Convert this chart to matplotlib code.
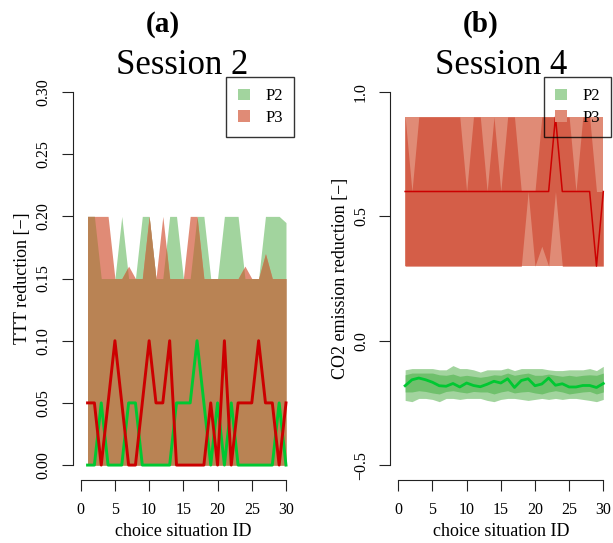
import numpy as np
import matplotlib
matplotlib.use("Agg")
import matplotlib.pyplot as plt
from matplotlib.patches import Patch

plt.rcParams['font.family'] = ['Liberation Serif', 'DejaVu Serif']

situation = np.arange(1, 31)

# ---- Panel (a): Session 2, TTT reduction ----
s2_p2_upper = [0.20, 0.20, 0.15, 0.15, 0.15, 0.20, 0.15, 0.15, 0.20, 0.20,
               0.15, 0.15, 0.20, 0.20, 0.15, 0.15, 0.20, 0.20, 0.15, 0.15,
               0.20, 0.20, 0.20, 0.15, 0.15, 0.15, 0.20, 0.20, 0.20, 0.195]
s2_p2_lower = [0.0, 0.0, 0.0, 0.0, 0.0, 0.0, 0.0, 0.0, 0.0, 0.0,
               0.0, 0.0, 0.0, 0.0, 0.0, 0.0, 0.0, 0.0, 0.0, 0.0,
               0.0, 0.0, 0.0, 0.0, 0.0, 0.0, 0.0, 0.0, 0.0, 0.0]
s2_p3_upper = [0.20, 0.20, 0.20, 0.20, 0.15, 0.15, 0.16, 0.15, 0.15, 0.20,
               0.15, 0.20, 0.15, 0.15, 0.15, 0.20, 0.20, 0.15, 0.15, 0.15,
               0.15, 0.15, 0.15, 0.16, 0.15, 0.15, 0.17, 0.15, 0.15, 0.15]
s2_p3_lower = [0.0, 0.0, 0.0, 0.0, 0.0, 0.0, 0.0, 0.0, 0.0, 0.0,
               0.0, 0.0, 0.0, 0.0, 0.0, 0.0, 0.0, 0.0, 0.0, 0.0,
               0.0, 0.0, 0.0, 0.0, 0.0, 0.0, 0.0, 0.0, 0.0, 0.0]
s2_p2_median = [0.0, 0.0, 0.05, 0.0, 0.0, 0.0, 0.05, 0.05, 0.0, 0.0,
                0.0, 0.0, 0.0, 0.05, 0.05, 0.05, 0.10, 0.05, 0.0, 0.05,
                0.0, 0.05, 0.0, 0.0, 0.0, 0.0, 0.0, 0.0, 0.05, 0.0]
s2_p3_median = [0.05, 0.05, 0.0, 0.05, 0.10, 0.05, 0.0, 0.0, 0.05, 0.10,
                0.05, 0.05, 0.10, 0.0, 0.0, 0.0, 0.0, 0.0, 0.05, 0.0,
                0.10, 0.0, 0.05, 0.05, 0.05, 0.10, 0.05, 0.05, 0.0, 0.05]

# ---- Panel (b): Session 4, CO2 emission reduction ----
s4_p2_outer_upper = [-0.117, -0.112, -0.112, -0.112, -0.112, -0.117, -0.117, -0.100, -0.112, -0.112,
                     -0.117, -0.126, -0.117, -0.117, -0.117, -0.110, -0.120, -0.112, -0.112, -0.112,
                     -0.112, -0.117, -0.120, -0.120, -0.117, -0.117, -0.117, -0.112, -0.120, -0.103]
s4_p2_outer_lower = [-0.240, -0.245, -0.232, -0.232, -0.236, -0.245, -0.232, -0.232, -0.236, -0.232,
                     -0.232, -0.232, -0.240, -0.245, -0.236, -0.232, -0.232, -0.236, -0.240, -0.236,
                     -0.232, -0.236, -0.232, -0.236, -0.232, -0.232, -0.236, -0.240, -0.245, -0.236]
s4_p2_inner_upper = [-0.137, -0.130, -0.130, -0.130, -0.130, -0.137, -0.139, -0.134, -0.143, -0.139,
                     -0.143, -0.147, -0.143, -0.137, -0.139, -0.130, -0.139, -0.134, -0.130, -0.139,
                     -0.139, -0.134, -0.139, -0.143, -0.139, -0.143, -0.139, -0.137, -0.139, -0.130]
s4_p2_inner_lower = [-0.206, -0.206, -0.201, -0.204, -0.210, -0.214, -0.204, -0.201, -0.206, -0.210,
                     -0.204, -0.206, -0.206, -0.214, -0.206, -0.201, -0.210, -0.206, -0.204, -0.210,
                     -0.214, -0.206, -0.201, -0.206, -0.214, -0.210, -0.206, -0.204, -0.214, -0.206]
s4_p2_median = [-0.181, -0.157, -0.150, -0.157, -0.167, -0.181, -0.183, -0.172, -0.186, -0.170,
                -0.180, -0.185, -0.175, -0.163, -0.170, -0.153, -0.188, -0.160, -0.153, -0.181,
                -0.174, -0.150, -0.179, -0.173, -0.186, -0.186, -0.180, -0.180, -0.188, -0.172]
s4_p3_outer_upper = [0.9, 0.9, 0.9, 0.9, 0.9, 0.9, 0.9, 0.9, 0.9, 0.9,
                     0.9, 0.9, 0.9, 0.9, 0.9, 0.9, 0.9, 0.9, 0.9, 0.9,
                     0.9, 0.9, 0.9, 0.9, 0.9, 0.9, 0.9, 0.9, 0.9, 0.9]
s4_p3_outer_lower = [0.3, 0.3, 0.3, 0.3, 0.3, 0.3, 0.3, 0.3, 0.3, 0.3,
                     0.3, 0.3, 0.3, 0.3, 0.3, 0.3, 0.3, 0.3, 0.3, 0.3,
                     0.3, 0.3, 0.3, 0.3, 0.3, 0.3, 0.3, 0.3, 0.3, 0.3]
s4_p3_inner_upper = [0.9, 0.6, 0.9, 0.9, 0.9, 0.9, 0.9, 0.9, 0.9, 0.6,
                     0.9, 0.9, 0.6, 0.9, 0.6, 0.9, 0.9, 0.6, 0.6, 0.6,
                     0.9, 0.9, 0.9, 0.9, 0.9, 0.6, 0.9, 0.9, 0.6, 0.6]
s4_p3_inner_lower = [0.3, 0.3, 0.3, 0.3, 0.3, 0.3, 0.3, 0.3, 0.3, 0.3,
                     0.3, 0.3, 0.3, 0.3, 0.3, 0.3, 0.3, 0.3, 0.6, 0.3,
                     0.38, 0.3, 0.6, 0.3, 0.3, 0.3, 0.3, 0.3, 0.3, 0.3]
s4_p3_median = [0.6, 0.6, 0.6, 0.6, 0.6, 0.6, 0.6, 0.6, 0.6, 0.6,
                0.6, 0.6, 0.6, 0.6, 0.6, 0.6, 0.6, 0.6, 0.6, 0.6,
                0.6, 0.6, 0.9, 0.6, 0.6, 0.6, 0.6, 0.6, 0.3, 0.6]

series_labels = ['P2', 'P3']
x_ticks = [0, 5, 10, 15, 20, 25, 30]
a_yticks = [0.00, 0.05, 0.10, 0.15, 0.20, 0.25, 0.30]
a_yticklabels = ['0.00', '0.05', '0.10', '0.15', '0.20', '0.25', '0.30']
b_yticks = [-0.5, 0.0, 0.5, 1.0]
b_yticklabels = ['\u22120.5', '0.0', '0.5', '1.0']

# colours
LIGHT_GREEN = '#A2D49E'
MID_GREEN = '#6FC06C'
SALMON = '#E08B76'
DARK_RED = '#D45E48'
BROWN = '#B98354'
LINE_GREEN = '#00C832'
LINE_RED = '#CC0000'

W, H = 613, 543
fig = plt.figure(figsize=(W / 100, H / 100), dpi=100)


def px_axes(l, r, t, b):
    return fig.add_axes([l / W, 1 - b / H, (r - l) / W, (b - t) / H])


ax_a = px_axes(72.5, 294.2, 77.1, 480.0)
ax_b = px_axes(390.1, 611.5, 77.1, 480.0)


def style_axes(ax, yticks, yticklabels, ylim, ylabel):
    for s in ['top', 'right']:
        ax.spines[s].set_visible(False)
    ax.spines['left'].set_bounds(yticks[0], yticks[-1])
    ax.spines['bottom'].set_bounds(x_ticks[0], x_ticks[-1])
    for s in ['left', 'bottom']:
        ax.spines[s].set_linewidth(0.8)
        ax.spines[s].set_color('#222222')
    ax.set_xlim(-1.2, 31.2)
    ax.set_ylim(*ylim)
    ax.set_xticks(x_ticks)
    ax.set_xticklabels([str(t) for t in x_ticks])
    ax.set_yticks(yticks)
    ax.set_yticklabels(yticklabels, rotation=90, va='center')
    ax.tick_params(axis='both', direction='out', length=7.7, width=0.8,
                   color='#222222', labelsize=11.5)
    ax.tick_params(axis='y', pad=7.5)
    ax.tick_params(axis='x', pad=8.2)
    ax.set_xlabel('choice situation ID', fontsize=13)
    ax.xaxis.set_label_coords(0.5, -0.128)
    ax.xaxis.label.set_verticalalignment('center')
    ax.set_ylabel(ylabel, fontsize=13)
    ax.yaxis.label.set_verticalalignment('center')


# ---- draw panel (a) ----
ax_a.fill_between(situation, s2_p2_lower, s2_p2_upper, color=LIGHT_GREEN, lw=0)
ax_a.fill_between(situation, s2_p3_lower, s2_p3_upper, color=SALMON, lw=0)
xf = np.linspace(situation[0], situation[-1], 2901)
ov_top = np.minimum(np.interp(xf, situation, s2_p2_upper), np.interp(xf, situation, s2_p3_upper))
ov_bot = np.maximum(np.interp(xf, situation, s2_p2_lower), np.interp(xf, situation, s2_p3_lower))
ax_a.fill_between(xf, ov_bot, ov_top, where=ov_top > ov_bot, color=BROWN, lw=0)
ax_a.plot(situation, s2_p2_median, color=LINE_GREEN, lw=2.1)
ax_a.plot(situation, s2_p3_median, color=LINE_RED, lw=2.1)
style_axes(ax_a, a_yticks, a_yticklabels, (-0.012, 0.312), 'TTT reduction [\u2212]')
ax_a.yaxis.set_label_coords((23 - 72.5) / 221.7, 0.5)

# ---- draw panel (b) ----
ax_b.fill_between(situation, s4_p2_outer_lower, s4_p2_outer_upper, color=LIGHT_GREEN, lw=0)
ax_b.fill_between(situation, s4_p2_inner_lower, s4_p2_inner_upper, color=MID_GREEN, lw=0)
ax_b.fill_between(situation, s4_p3_outer_lower, s4_p3_outer_upper, color=SALMON, lw=0)
ax_b.fill_between(situation, s4_p3_inner_lower, s4_p3_inner_upper, color=DARK_RED, lw=0)
ax_b.plot(situation, s4_p2_median, color=LINE_GREEN, lw=2.0)
ax_b.plot(situation, s4_p3_median, color=LINE_RED, lw=1.1)
style_axes(ax_b, b_yticks, b_yticklabels, (-0.56, 1.06), 'CO2 emission reduction [\u2212]')
ax_b.yaxis.set_label_coords((340 - 390.1) / 221.4, 0.5)

# legends
for ax in (ax_a, ax_b):
    handles = [Patch(facecolor=LIGHT_GREEN, edgecolor='none'),
               Patch(facecolor=SALMON, edgecolor='none')]
    leg = ax.legend(handles, series_labels, loc='upper right', bbox_to_anchor=(1, 1),
                    borderaxespad=0, frameon=True, fancybox=False, fontsize=12,
                    handlelength=0.76, handleheight=0.7, handletextpad=0.92,
                    labelspacing=0.35, borderpad=0.67)
    fr = leg.get_frame()
    fr.set_facecolor('none')
    fr.set_edgecolor('black')
    fr.set_linewidth(1.0)

# titles
fig.text(163 / W, 1 - 31.5 / H, '(a)', ha='center', va='baseline', fontsize=21, fontweight='bold')
fig.text(481 / W, 1 - 31.5 / H, '(b)', ha='center', va='baseline', fontsize=21, fontweight='bold')
fig.text(182.5 / W, 1 - 74 / H, 'Session 2', ha='center', va='baseline', fontsize=25)
fig.text(500.7 / W, 1 - 74 / H, 'Session 4', ha='center', va='baseline', fontsize=25)

fig.savefig('out.png', dpi=100)
